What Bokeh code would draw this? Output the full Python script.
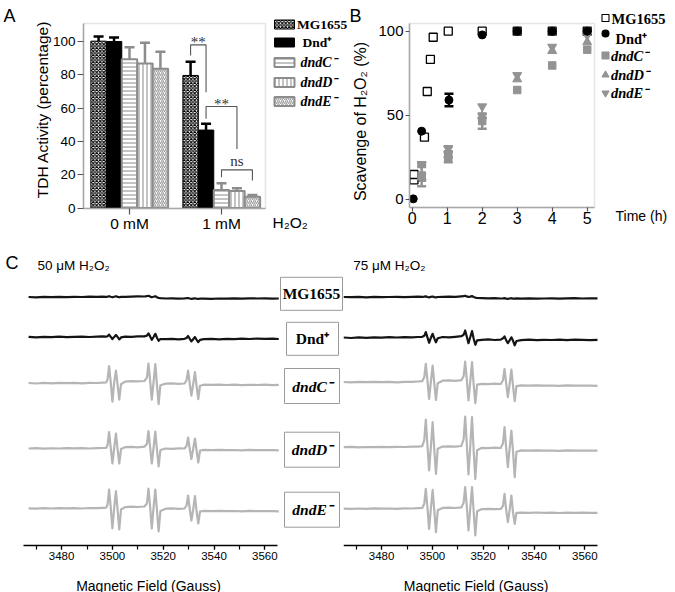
import math
from bokeh.plotting import figure
from bokeh.models import (Range1d, FixedTicker, ColumnDataSource, Whisker, TeeHead,
                          BoxAnnotation, Label)
from bokeh.layouts import row, column
from bokeh.embed import file_html
from bokeh.resources import INLINE
from bokeh.core.properties import value

SANS = "Liberation Sans"
SERIF = "Liberation Serif"
GRAY_EDGE = "#8c8c8c"
GRAY_HATCH = "#a3a3a3"
GRAY_MARK = "#939393"
GRAY_TRACE = "#b5b5b5"
FRAME_GRAY = "#a8a8a8"

# ======================= DATA =======================
# ---- Panel A: TDH activity (%) ----
conditions = ["0 mM", "1 mM"]
strain_names = ["MG1655", "Dnd\u207a", "dndC\u207b", "dndD\u207b", "dndE\u207b"]
tdh_MG1655 = [100.2, 79.6]
tdh_Dnd = [100.0, 46.8]
tdh_dndC = [89.4, 10.8]
tdh_dndD = [86.8, 10.2]
tdh_dndE = [83.6, 6.8]
tdh_err_MG1655 = [2.8, 8.2]
tdh_err_Dnd = [2.4, 3.8]
tdh_err_dndC = [7.2, 4.0]
tdh_err_dndD = [12.4, 1.6]
tdh_err_dndE = [10.2, 1.0]
# significance brackets in the 1 mM group (strain indices, heights in %)
sig_from = [0, 1, 2]
sig_to = [1, 3, 4]
sig_top = [98.0, 61.0, 22.9]
sig_left_end = [91.6, 53.6, 18.5]
sig_right_end = [69.5, 35.5, 16.5]
sig_text = ["**", "**", "ns"]
sig_text_y = [99.7, 62.7, 28.3]

# ---- Panel B: scavenge of H2O2 (%) vs time (h) ----
time_MG1655 = [0.05, 0.05, 0.35, 0.43, 0.52, 0.60, 1.03, 2.0, 3.0, 4.0, 5.0]
scav_MG1655 = [11.5, 14.7, 36.9, 64.1, 83.2, 96.4, 100.0, 100.0, 100.0, 100.0, 100.0]
time_Dnd = [0.03, 0.27, 1.05, 2.0, 3.0, 4.0, 5.0]
scav_Dnd = [0.2, 40.5, 59.0, 97.8, 100.0, 100.0, 100.0]
err_Dnd = [0.0, 0.0, 3.7, 0.0, 0.0, 0.0, 0.0]
time_mut = [0.27, 1.03, 2.0, 3.0, 4.0, 5.0]
scav_dndC = [14.1, 25.0, 46.5, 65.0, 79.6, 89.0]
err_dndC = [6.4, 3.0, 4.5, 0.0, 0.0, 0.0]
scav_dndD = [13.0, 26.5, 49.5, 71.4, 88.3, 93.5]
err_dndD = [2.0, 1.5, 1.0, 0.0, 0.0, 0.0]
scav_dndE = [20.6, 30.0, 55.2, 73.8, 90.7, 97.5]
err_dndE = [1.4, 1.5, 0.0, 0.0, 0.0, 0.0]

# ---- Panel C: EPR spectra (signal, arbitrary units) ----
field_50uM = [3467, 3470, 3473, 3476, 3479, 3482, 3485, 3488, 3491, 3494, 3496, 3497.6,
              3498.1, 3498.7, 3499.35, 3500.0, 3500.7, 3501.4, 3502.05, 3502.7, 3503.4,
              3505, 3507.5, 3510, 3512.6,
              3513.6, 3514.2, 3514.85, 3515.5, 3516.2, 3516.9, 3517.55, 3518.2, 3518.9,
              3521, 3523.5, 3526, 3528.4,
              3529.2, 3529.8, 3530.45, 3531.1, 3531.8, 3532.5, 3533.15, 3533.8, 3534.5,
              3536, 3539, 3542, 3545, 3548, 3551, 3554, 3557, 3560, 3563, 3565.5]
epr50_MG1655 = [0.2, -0.2, 0.3, 0.0, 0.3, 0.1, 0.4, 0.2, 0.5, 0.3, 0.6, 0.4,
                0.6, 1.0, 0.4, 0.0, 0.5, 0.9, 0.3, -0.1, 0.3,
                0.4, 0.6, 0.8, 0.7,
                1.0, 1.4, 0.6, 0.0, 0.5, 1.0, 0.0, -0.8, -1.0,
                -1.3, -1.1, -1.4, -1.2,
                -1.0, -0.8, -1.3, -1.7, -1.4, -1.1, -1.5, -1.8, -1.5,
                -1.4, -1.6, -1.3, -1.5, -1.2, -1.4, -1.1, -1.3, -1.2, -1.4, -1.3]
epr50_Dnd = [0.3, -0.2, 0.4, 0.1, 0.5, 0.0, 0.4, 0.6, 0.2, 0.5, 0.8, 0.6,
             1.0, 2.6, 0.4, -1.8, 0.3, 2.2, 0.2, -2.2, -0.2,
             0.6, 0.4, 0.9, 0.8,
             1.6, 3.8, 0.8, -2.6, 0.2, 3.4, -0.5, -3.6, -1.8,
             -2.0, -1.7, -2.1, -1.6,
             -0.8, 1.2, -1.6, -4.2, -2.0, 0.2, -2.6, -5.0, -2.6,
             -2.0, -1.6, -2.1, -1.7, -1.9, -1.5, -1.8, -1.4, -1.7, -1.5, -1.8]
epr50_dndC = [0.2, -0.3, 0.3, -0.1, 0.4, 0.0, 0.3, -0.2, 0.4, 0.2, 0.6, 0.8,
              4.0, 17.0, 1.0, -18.5, 0.5, 12.5, -1.5, -16.5, -1.0,
              1.6, 2.0, 1.8, 2.2,
              5.5, 19.5, 2.5, -16.5, 1.0, 19.0, -2.0, -21.0, -2.0,
              -0.4, -0.2, -0.6, -0.3,
              3.0, 12.5, -0.5, -12.5, -1.0, 11.0, -3.0, -16.0, -2.5,
              -1.5, -1.7, -1.4, -1.8, -1.5, -1.9, -1.6, -1.8, -1.5, -2.0, -1.7]
epr50_dndD = [0.0, 0.3, -0.2, 0.2, 0.0, 0.4, 0.1, 0.3, 0.0, 0.4, 0.5, 0.7,
              3.5, 16.5, 0.5, -15.0, 0.5, 15.0, -1.0, -15.0, -0.5,
              1.3, 1.6, 1.2, 1.8,
              4.5, 17.5, 1.5, -15.0, 0.5, 17.0, -1.5, -18.0, -1.5,
              0.0, -0.3, 0.2, 0.0,
              2.5, 11.0, -0.5, -10.5, -0.5, 10.0, -2.0, -14.0, -2.0,
              -1.4, -1.7, -1.3, -1.6, -1.5, -1.8, -1.4, -1.7, -1.5, -1.6, -1.8]
epr50_dndE = [0.2, -0.1, 0.3, 0.0, 0.4, 0.1, 0.3, 0.0, 0.5, 0.3, 0.6, 0.9,
              4.0, 19.0, 1.0, -20.0, 0.5, 17.5, -1.5, -21.0, -1.0,
              1.4, 1.8, 1.5, 2.0,
              5.0, 20.0, 2.0, -20.0, 1.0, 19.0, -2.0, -23.0, -2.5,
              -0.2, 0.1, -0.3, 0.0,
              3.0, 13.0, -0.5, -12.0, -1.0, 12.5, -3.0, -15.0, -3.0,
              -2.4, -2.7, -2.3, -2.6, -2.5, -2.8, -2.4, -2.7, -2.5, -2.6, -2.8]

field_75uM = [3465, 3468, 3471, 3474, 3477, 3480, 3483, 3486, 3489, 3492, 3494.3, 3496.0,
              3496.8, 3497.4, 3498.05, 3498.7, 3499.4, 3500.1, 3500.75, 3501.4, 3502.1,
              3504, 3506.5, 3509, 3511.4,
              3512.3, 3512.9, 3513.55, 3514.2, 3514.9, 3515.6, 3516.25, 3516.9, 3517.6,
              3519.5, 3522, 3524.5, 3526.9,
              3527.8, 3528.4, 3529.05, 3529.7, 3530.4, 3531.1, 3531.75, 3532.4, 3533.1,
              3535, 3538, 3541, 3544, 3547, 3550, 3553, 3556, 3559, 3562, 3565]
epr75_MG1655 = [0.2, 0.0, 0.3, -0.1, 0.3, 0.1, 0.2, 0.4, 0.1, 0.3, 0.5, 0.3,
                0.6, 0.9, 0.2, -0.2, 0.4, 0.7, 0.1, -0.2, 0.2,
                0.3, 0.5, 0.4, 0.8,
                1.0, 1.5, 0.8, 0.2, 0.6, 1.1, 0.3, -0.4, -0.8,
                -1.0, -1.2, -0.9, -1.3,
                -1.1, -0.9, -1.4, -1.6, -1.3, -1.0, -1.4, -1.5, -1.2,
                -1.4, -1.2, -1.5, -1.3, -1.1, -1.4, -1.2, -1.0, -1.3, -1.1, -1.2]
epr75_Dnd = [0.3, -0.2, 0.4, 0.0, 0.5, 0.2, 0.6, 0.3, 0.7, 0.4, 0.8, 1.0,
             2.0, 5.7, 0.5, -5.0, 0.0, 4.0, -0.5, -4.5, -0.5,
             0.8, 0.5, 1.0, 1.6,
             3.0, 7.3, 1.0, -5.3, 0.5, 6.7, -1.0, -7.0, -2.5,
             -2.0, -1.6, -2.2, -1.8,
             -0.5, 1.5, -2.5, -5.3, -2.5, 0.5, -3.0, -7.5, -3.2,
             -2.3, -1.9, -2.4, -2.0, -2.2, -1.8, -2.3, -1.9, -2.1, -2.4, -2.0]
epr75_dndC = [0.2, -0.2, 0.3, 0.0, 0.4, 0.1, 0.3, -0.1, 0.4, 0.3, 0.7, 1.0,
              5.0, 18.3, 1.5, -16.7, 0.5, 16.7, -1.5, -17.7, -1.0,
              1.5, 1.8, 1.4, 2.0,
              6.0, 20.7, 2.5, -18.3, 0.5, 20.0, -2.5, -21.0, -2.5,
              -1.6, -1.9, -1.5, -1.8,
              2.0, 13.3, -1.5, -15.0, -2.0, 12.7, -4.0, -19.0, -4.0,
              -3.2, -3.5, -3.1, -3.4, -3.3, -3.6, -3.2, -3.5, -3.3, -3.4, -3.6]
epr75_dndD = [0.0, 0.3, -0.1, 0.2, 0.0, 0.4, 0.1, 0.3, 0.2, 0.5, 0.6, 1.0,
              7.0, 27.7, 2.0, -23.3, 0.5, 25.0, -2.5, -26.7, -1.5,
              0.6, 0.9, 0.5, 1.2,
              8.0, 30.7, 3.0, -27.3, 0.5, 30.0, -3.5, -31.7, -3.0,
              -0.6, -0.9, -0.5, -0.8,
              4.0, 20.0, -1.0, -20.0, -1.5, 16.7, -4.5, -30.0, -4.5,
              -3.2, -3.5, -3.1, -3.4, -3.3, -3.6, -3.2, -3.4, -3.3, -3.5, -3.4]
epr75_dndE = [0.2, -0.1, 0.3, 0.0, 0.4, 0.1, 0.3, 0.0, 0.4, 0.3, 0.6, 0.9,
              5.0, 20.0, 1.5, -20.0, 0.5, 19.0, -2.0, -23.3, -1.5,
              0.9, 1.2, 0.8, 1.4,
              6.0, 21.7, 2.5, -21.7, 0.5, 21.7, -3.0, -26.7, -2.5,
              -0.3, -0.1, -0.4, -0.2,
              3.0, 15.0, -1.0, -13.3, -1.5, 13.3, -3.5, -15.0, -4.0,
              -3.8, -4.1, -3.7, -4.0, -3.9, -4.2, -3.8, -4.0, -3.9, -4.1, -4.0]
epr_ticks = [3480, 3500, 3520, 3540, 3560]
epr_minor_ticks = [3470, 3480, 3490, 3500, 3510, 3520, 3530, 3540, 3550, 3560]

# ======================= HELPERS =======================
def make_fig(w, h, xr, yr):
    p = figure(width=w, height=h, output_backend="svg", toolbar_location=None,
               x_range=Range1d(*xr), y_range=Range1d(*yr),
               min_border_left=0, min_border_right=0, min_border_top=0, min_border_bottom=0)
    p.outline_line_color = None
    p.xgrid.visible = False
    p.ygrid.visible = False
    p.background_fill_color = "white"
    p.border_fill_color = "white"
    return p


def axis_style(ax, line_color, tick_color, label_size, tick_out, standoff):
    ax.axis_line_color = line_color
    ax.axis_line_width = 1.5
    ax.major_tick_line_color = tick_color
    ax.major_tick_line_width = 1.2
    ax.major_tick_out = tick_out
    ax.major_tick_in = 0
    ax.minor_tick_line_color = None
    ax.major_label_text_font = SANS
    ax.major_label_text_font_size = label_size
    ax.major_label_text_color = "black"
    ax.major_label_standoff = standoff


def text_label(p, x, y, text, size, font=SANS, style="normal", align="left",
               baseline="middle", angle=0.0):
    p.add_layout(Label(x=x, y=y, text=text, text_font=font, text_font_size=size,
                       text_font_style=style, text_align=align, text_baseline=baseline,
                       angle=angle, text_color="black"))


# ======================= PANEL A =======================
def ax_(px):
    return -0.5 + (px - 83) / 92.0


def ay_(py):
    return (207.5 - py) / 1.665


pA = make_fig(347, 240, (ax_(0), ax_(347)), (ay_(240), ay_(0)))
pA.add_layout(BoxAnnotation(left=ax_(83), right=ax_(265), bottom=ay_(208), top=ay_(23),
                            fill_alpha=0, line_color=FRAME_GRAY, line_width=1.5,
                            level="underlay"))
axis_style(pA.yaxis[0], FRAME_GRAY, "#555555", "13.5px", 6, 2)
pA.yaxis.ticker = FixedTicker(ticks=[0, 20, 40, 60, 80, 100])
pA.yaxis.bounds = (ay_(208), ay_(23))
pA.yaxis.fixed_location = ax_(83)
axis_style(pA.xaxis[0], FRAME_GRAY, "#555555", "15.5px", 6, 0)
pA.xaxis.ticker = FixedTicker(ticks=[0, 1])
pA.xaxis.major_label_overrides = {0: conditions[0], 1: conditions[1]}
pA.xaxis.bounds = (ax_(83), ax_(265))
pA.xaxis.fixed_location = ay_(208)

bar_w = 0.168
bar_styles = [
    dict(fill_color="white", line_color="black", line_width=1,
         hatch_pattern="diagonal_cross", hatch_color="black", hatch_scale=3.5, hatch_weight=1.1),
    dict(fill_color="black", line_color="black", line_width=1),
    dict(fill_color="white", line_color=GRAY_EDGE, line_width=2,
         hatch_pattern="horizontal_line", hatch_color=GRAY_HATCH, hatch_scale=4, hatch_weight=1.3),
    dict(fill_color="white", line_color=GRAY_EDGE, line_width=2,
         hatch_pattern="vertical_line", hatch_color=GRAY_HATCH, hatch_scale=4, hatch_weight=1.3),
    dict(fill_color="white", line_color=GRAY_EDGE, line_width=2,
         hatch_pattern="right_diagonal_line", hatch_color=GRAY_HATCH, hatch_scale=4, hatch_weight=1.3),
]
err_colors = ["black", "black", GRAY_EDGE, GRAY_EDGE, GRAY_EDGE]
tdh_means = [tdh_MG1655, tdh_Dnd, tdh_dndC, tdh_dndD, tdh_dndE]
tdh_errs = [tdh_err_MG1655, tdh_err_Dnd, tdh_err_dndC, tdh_err_dndD, tdh_err_dndE]

for k in range(len(strain_names)):
    xs = [g + (k - 2) * bar_w for g in range(len(conditions))]
    src = ColumnDataSource(dict(x=xs, top=tdh_means[k],
                                upper=[m + e for m, e in zip(tdh_means[k], tdh_errs[k])]))
    pA.add_layout(Whisker(source=src, base="x", lower="top", upper="upper", dimension="height",
                          line_color=err_colors[k], line_width=2.5, level="underlay",
                          upper_head=TeeHead(size=10, line_color=err_colors[k], line_width=2.5),
                          lower_head=None))
    pA.vbar(x="x", top="top", bottom=0, width=bar_w, source=src, **bar_styles[k])


def bar_x(k):
    return 1 + (k - 2) * bar_w


br_xs, br_ys, br_tx = [], [], []
for f, t, top, le, re in zip(sig_from, sig_to, sig_top, sig_left_end, sig_right_end):
    br_xs.append([bar_x(f), bar_x(f), bar_x(t), bar_x(t)])
    br_ys.append([le, top, top, re])
    br_tx.append((bar_x(f) + bar_x(t)) / 2)
pA.multi_line(br_xs, br_ys, line_color="#555555", line_width=1.1)
pA.text(x=br_tx, y=sig_text_y, text=sig_text, text_font=value(SERIF), text_font_size="15px",
        text_align="center", text_baseline="middle", text_color="#333333")

# legend A
legA_rows = [24, 42, 62, 82, 101]
legA_text_x = [296.5, 302, 300, 300, 300]
for k in range(len(strain_names)):
    pA.rect(x=[ax_(284)], y=[ay_(legA_rows[k])], width=20, height=9,
            width_units="screen", height_units="screen", **bar_styles[k])
pA.text(x=[ax_(v) for v in legA_text_x[:2]], y=[ay_(v) for v in legA_rows[:2]],
        text=strain_names[:2], text_font=value(SERIF), text_font_size="13.5px",
        text_font_style="bold", text_baseline="middle", text_align="left", text_color="black")
pA.text(x=[ax_(v) for v in legA_text_x[2:]], y=[ay_(v) for v in legA_rows[2:]],
        text=strain_names[2:], text_font=value(SERIF), text_font_size="14px",
        text_font_style="bold italic", text_baseline="middle", text_align="left",
        text_color="black")
text_label(pA, ax_(42), ay_(109), "TDH Activity (percentage)", "15.5px", align="center",
           angle=math.pi / 2)
text_label(pA, ax_(272), ay_(222), "H\u2082O\u2082", "15.5px")
text_label(pA, ax_(3), ay_(15), "A", "18px")

# ======================= PANEL B =======================
def bx_(px):
    return (px - 411.7) / 35.0


def by_(py):
    return (198.7 - py) / 1.68


pB = make_fig(328, 240, (bx_(347), bx_(675)), (by_(240), by_(0)))
pB.add_layout(BoxAnnotation(left=bx_(409), right=bx_(594), bottom=by_(207), top=by_(23),
                            fill_alpha=0, line_color=FRAME_GRAY, line_width=1.5,
                            level="underlay"))
axis_style(pB.yaxis[0], FRAME_GRAY, "#555555", "15px", 4, 2)
pB.yaxis.ticker = FixedTicker(ticks=[0, 50, 100])
pB.yaxis.bounds = (by_(207), by_(23))
pB.yaxis.fixed_location = bx_(409)
axis_style(pB.xaxis[0], FRAME_GRAY, "#555555", "16px", 4, 0)
pB.xaxis.ticker = FixedTicker(ticks=[0, 1, 2, 3, 4, 5])
pB.xaxis.bounds = (bx_(409), bx_(594))
pB.xaxis.fixed_location = by_(207)


def add_err(p, xs, ys, es, color):
    sel = [(x, y, e) for x, y, e in zip(xs, ys, es) if e > 0]
    src = ColumnDataSource(dict(x=[s[0] for s in sel], lo=[s[1] - s[2] for s in sel],
                                hi=[s[1] + s[2] for s in sel]))
    p.add_layout(Whisker(source=src, base="x", lower="lo", upper="hi", dimension="height",
                         line_color=color, line_width=2.5, level="underlay",
                         upper_head=TeeHead(size=9, line_color=color, line_width=2.5),
                         lower_head=TeeHead(size=9, line_color=color, line_width=2.5)))


add_err(pB, time_mut, scav_dndC, err_dndC, GRAY_MARK)
add_err(pB, time_mut, scav_dndD, err_dndD, GRAY_MARK)
add_err(pB, time_mut, scav_dndE, err_dndE, GRAY_MARK)
add_err(pB, time_Dnd, scav_Dnd, err_Dnd, "black")

pB.scatter(time_MG1655, scav_MG1655, marker="square", size=8, fill_color="white",
           line_color="black", line_width=1.3)
pB.scatter(time_mut, scav_dndC, marker="square", size=7.5, fill_color=GRAY_MARK,
           line_color=GRAY_MARK)
pB.scatter(time_mut, scav_dndD, marker="triangle", size=9, fill_color=GRAY_MARK,
           line_color=GRAY_MARK)
pB.scatter(time_mut, scav_dndE, marker="inverted_triangle", size=9, fill_color=GRAY_MARK,
           line_color=GRAY_MARK)
pB.scatter(time_Dnd, scav_Dnd, marker="circle", size=8, fill_color="black", line_color="black")

# legend B
legB_marker_y = [17.5, 33, 55, 74.5, 92.5]
legB_text_y = [18, 38.5, 55, 74.5, 92.5]
legB_text_x = [611, 615, 610.5, 610.5, 610.5]
legB_markers = [("square", "white", "black"), ("circle", "black", "black"),
                ("square", GRAY_MARK, GRAY_MARK), ("triangle", GRAY_MARK, GRAY_MARK),
                ("inverted_triangle", GRAY_MARK, GRAY_MARK)]
for (m, fc, lc), yy in zip(legB_markers, legB_marker_y):
    pB.scatter([bx_(605)], [by_(yy)], marker=m, size=7, fill_color=fc, line_color=lc,
               line_width=1.1)
pB.text(x=[bx_(v) for v in legB_text_x[:2]], y=[by_(v) for v in legB_text_y[:2]],
        text=strain_names[:2], text_font=value(SERIF), text_font_size="14.5px",
        text_font_style="bold", text_baseline="middle", text_align="left", text_color="black")
pB.text(x=[bx_(v) for v in legB_text_x[2:]], y=[by_(v) for v in legB_text_y[2:]],
        text=strain_names[2:], text_font=value(SERIF), text_font_size="14.5px",
        text_font_style="bold italic", text_baseline="middle", text_align="left",
        text_color="black")
text_label(pB, bx_(360), by_(121), "Scavenge of H\u2082O\u2082 (%)", "16px", align="center",
           angle=math.pi / 2)
text_label(pB, bx_(615), by_(215), "Time (h)", "14px")
text_label(pB, bx_(349), by_(15), "B", "18px")

# ======================= PANEL C =======================
def cx1(px):
    return 3465 + (px - 23) / 2.54


def cx2(px):
    return 3465 + (px - 343) / 2.54


def cy(py):
    return 545 - py


def c_axis(p):
    ax = p.xaxis[0]
    axis_style(ax, "black", "black", "11.5px", 4, 2)
    ax.axis_line_width = 1.6
    ax.ticker = FixedTicker(ticks=epr_ticks, minor_ticks=epr_minor_ticks)
    ax.minor_tick_line_color = "black"
    ax.minor_tick_line_width = 1.2
    ax.minor_tick_out = 4
    ax.minor_tick_in = 0
    ax.bounds = (3465, 3565)
    ax.fixed_location = cy(545)
    p.yaxis.visible = False


pC1 = make_fig(343, 352, (cx1(0), cx1(343)), (cy(592), cy(240)))
pC2 = make_fig(332, 352, (cx2(343), cx2(675)), (cy(592), cy(240)))
for p in (pC1, pC2):
    c_axis(p)

trace_colors = ["#141414", "#141414", GRAY_TRACE, GRAY_TRACE, GRAY_TRACE]
rows50 = [epr50_MG1655, epr50_Dnd, epr50_dndC, epr50_dndD, epr50_dndE]
rows75 = [epr75_MG1655, epr75_Dnd, epr75_dndC, epr75_dndD, epr75_dndE]
offsets50 = [cy(296.7), cy(336.7), cy(382.7), cy(448), cy(508)]
offsets75 = [cy(296.7), cy(337.3), cy(381.7), cy(446.7), cy(508.3)]
for k in range(5):
    pC1.line(field_50uM, [offsets50[k] + v for v in rows50[k]], line_color=trace_colors[k],
             line_width=2.2, line_join="round")
    pC2.line(field_75uM, [offsets75[k] + v for v in rows75[k]], line_color=trace_colors[k],
             line_width=2.2, line_join="round")

box_cx = [311, 312, 311.5, 311.5, 311.5]
box_cy = [293.3, 338.3, 385.5, 449.2, 509.2]
box_w = [62, 52, 55, 55, 55]
box_h = [33, 33, 35, 35, 35]
pC1.rect(x=[cx1(v) for v in box_cx], y=[cy(v) for v in box_cy], width=box_w, height=box_h,
         width_units="screen", height_units="screen", fill_color="white",
         line_color="#9a9a9a", line_width=1)
pC1.text(x=[cx1(v) for v in box_cx[:2]], y=[cy(v) for v in box_cy[:2]], text=strain_names[:2],
         text_font=value(SERIF), text_font_size="15.5px", text_font_style="bold",
         text_align="center", text_baseline="middle", text_color="black")
pC1.text(x=[cx1(v) for v in box_cx[2:]], y=[cy(v) for v in box_cy[2:]], text=strain_names[2:],
         text_font=value(SERIF), text_font_size="15.5px", text_font_style="bold italic",
         text_align="center", text_baseline="middle", text_color="black")

text_label(pC1, cx1(37), cy(265), "50 \u03bcM H\u2082O\u2082", "13.5px")
text_label(pC2, cx2(352.7), cy(265), "75 \u03bcM H\u2082O\u2082", "13.5px")
text_label(pC1, cx1(5), cy(262), "C", "18px")
text_label(pC1, cx1(148), cy(585), "Magnetic Field (Gauss)", "14px", align="center",
           baseline="alphabetic")
text_label(pC2, cx2(475.6), cy(585), "Magnetic Field (Gauss)", "14px", align="center",
           baseline="alphabetic")

layout = column(row(pA, pB), row(pC1, pC2))
open("out.html", "w").write(file_html(layout, INLINE))
